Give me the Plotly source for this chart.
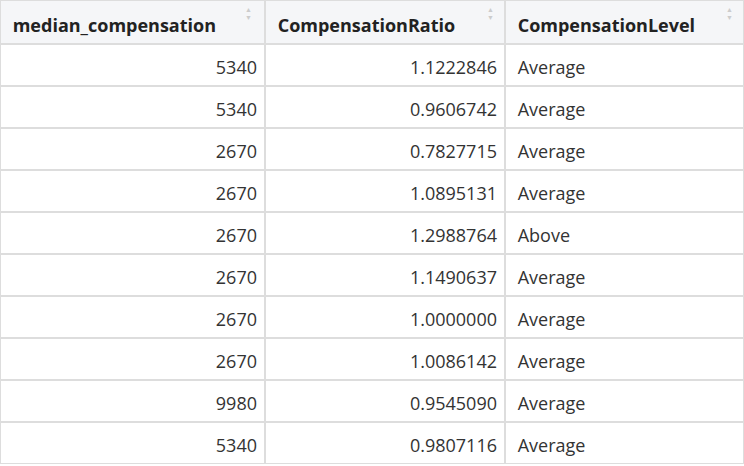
import plotly.graph_objects as go

headers = ["median_compensation", "CompensationRatio", "CompensationLevel"]
median_compensation = ["5340", "5340", "2670", "2670", "2670", "2670", "2670", "2670", "9980", "5340"]
compensation_ratio = ["1.1222846", "0.9606742", "0.7827715", "1.0895131", "1.2988764",
                      "1.1490637", "1.0000000", "1.0086142", "0.9545090", "0.9807116"]
compensation_level = ["Average", "Average", "Average", "Average", "Above",
                      "Average", "Average", "Average", "Average", "Average"]

W, H = 744, 474          # a little taller than the window; the page clips it
HEADER_H, ROW_H = 44, 42
col_widths = [265, 240, 239]
border = "#dddddd"
font_family = "Open Sans, Noto Sans, sans-serif"
pad = "\u00a0"
clear = "rgba(0,0,0,0)"
n_rows = len(median_compensation)
grid_h = HEADER_H + ROW_H * n_rows

# grid trace: fills and borders
grid = go.Table(
    columnwidth=col_widths,
    header=dict(values=["" for _ in headers], fill_color="#f5f6f8",
                line=dict(color=border, width=2), height=HEADER_H),
    cells=dict(values=[["" for _ in median_compensation] for _ in headers],
               fill_color="white", line=dict(color=border, width=2), height=ROW_H),
    domain=dict(x=[0, 1], y=[1 - grid_h / H, 1]),
)

# text trace: same table, shifted down slightly so the text sits mid-row
HEAD_SHIFT, CELL_SHIFT = 5, 8
text = go.Table(
    columnwidth=col_widths,
    header=dict(
        values=[f"{pad}<b>{h}</b>" for h in headers],
        fill_color=clear, line=dict(color=clear, width=0),
        align=["left", "left", "left"],
        font=dict(family=font_family, size=18, color="#222222"),
        height=HEADER_H + CELL_SHIFT - HEAD_SHIFT,
    ),
    cells=dict(
        values=[median_compensation, compensation_ratio, [pad + v for v in compensation_level]],
        fill_color=clear, line=dict(color=clear, width=0),
        align=["right", "right", "left"],
        font=dict(family=font_family, size=18, color="#333333"),
        height=ROW_H,
    ),
    domain=dict(x=[0, 1], y=[0, 1 - HEAD_SHIFT / H]),
)

fig = go.Figure([grid, text])

# sort indicators in header
icon_x = [248, 490, 729]
ann = []
for xp in icon_x:
    ann.append(dict(x=xp / W, y=1 - 10 / H, xref="paper", yref="paper", text="▲",
                    showarrow=False, font=dict(size=7, color="#cccccc"), xanchor="center", yanchor="middle"))
    ann.append(dict(x=xp / W, y=1 - 17 / H, xref="paper", yref="paper", text="▼",
                    showarrow=False, font=dict(size=7, color="#cccccc"), xanchor="center", yanchor="middle"))

fig.update_layout(width=W, height=H, margin=dict(l=0, r=0, t=0, b=0),
                  paper_bgcolor="white", annotations=ann)
fig.write_html(
    "out.html", config={"displayModeBar": False},
    post_script="document.body.style.margin='0';document.body.style.overflow='hidden';"
                "document.documentElement.style.overflow='hidden';",
)
